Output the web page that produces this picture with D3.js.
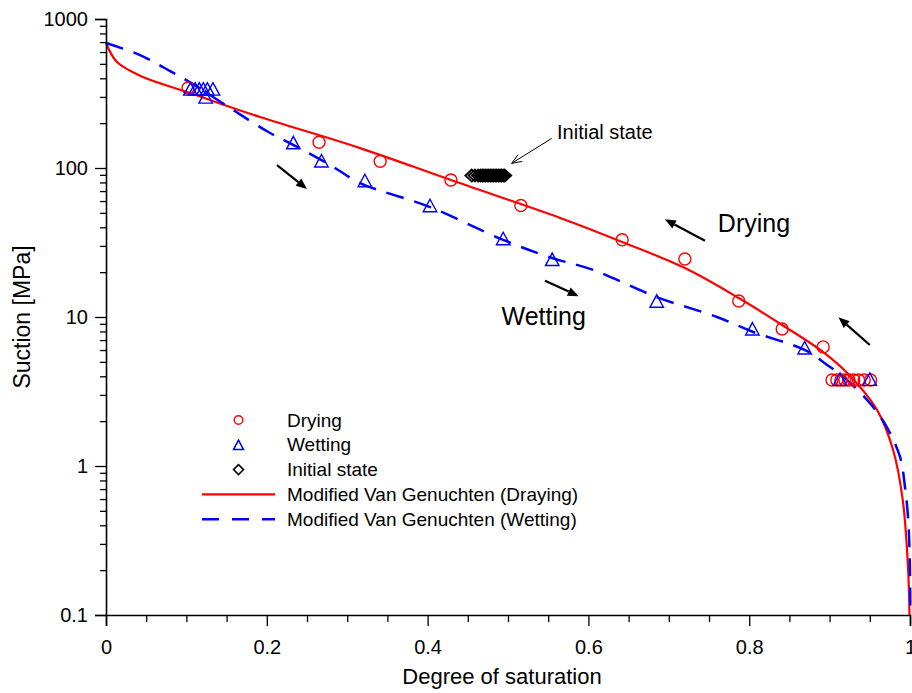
<!DOCTYPE html>
<html>
<head>
<meta charset="utf-8">
<script src="https://cdn.jsdelivr.net/npm/d3@7"></script>
<style>
  html, body { margin: 0; padding: 0; background: #fff; }
  svg { display: block; font-family: Arial, "Liberation Sans", sans-serif; }
</style>
</head>
<body>
<svg id="chart" width="912" height="693"></svg>
<script>
// ---------- data ----------
const xTicks = [0, 0.2, 0.4, 0.6, 0.8, 1];
const xTickLabels = ["0", "0.2", "0.4", "0.6", "0.8", "1"];
const yTicks = [0.1, 1, 10, 100, 1000];
const yTickLabels = ["0.1", "1", "10", "100", "1000"];

const dryingX = [0.102, 0.265, 0.341, 0.429, 0.516, 0.642, 0.720, 0.787, 0.841, 0.892,
                 0.903, 0.909, 0.914, 0.919, 0.924, 0.930, 0.936, 0.943, 0.951];
const dryingY = [344, 149, 111, 83, 56, 33, 24.5, 12.8, 8.3, 6.3,
                 3.78, 3.78, 3.78, 3.78, 3.78, 3.78, 3.78, 3.78, 3.78];

const wettingX = [0.105, 0.111, 0.116, 0.121, 0.126, 0.133, 0.124, 0.233, 0.268, 0.322,
                  0.403, 0.494, 0.555, 0.685, 0.804, 0.869, 0.913, 0.950];
const wettingY = [337, 337, 337, 337, 337, 337, 298, 147, 111, 81.8,
                  55.6, 33.4, 24.2, 12.7, 8.27, 6.17, 3.8, 3.8];

const initialX = [0.455, 0.459, 0.463, 0.466, 0.468, 0.470, 0.472, 0.474, 0.476, 0.478,
                  0.480, 0.482, 0.484, 0.486, 0.488, 0.490, 0.492, 0.494, 0.496];
const initialY = [89, 89, 89, 89, 89, 89, 89, 89, 89, 89, 89, 89, 89, 89, 89, 89, 89, 89, 89];

const dryFitX = [0, 0.0137, 0.046, 0.1007, 0.1294, 0.1915, 0.316, 0.429, 0.565, 0.642,
                 0.720, 0.787, 0.841, 0.892, 0.922, 0.959, 0.979, 0.991, 0.9975, 0.9994];
const dryFitY = [690, 514, 408, 324, 286, 220, 136, 83, 46.2, 31.9,
                 21.3, 13.4, 8.84, 5.82, 4.21, 2.38, 1.28, 0.59, 0.21, 0.1];

const wetFitX = [0, 0.0423, 0.0734, 0.1066, 0.1542, 0.2015, 0.2372, 0.2786, 0.3159, 0.403,
                 0.494, 0.555, 0.606, 0.685, 0.760, 0.805, 0.869, 0.897, 0.9216, 0.950,
                 0.971, 0.9876, 0.9938, 0.9975, 0.9994, 1.0005];
const wetFitY = [690, 573, 467, 370, 253, 175, 139, 105, 79.3, 54.7,
                 32.9, 24.9, 20.7, 13.6, 10.0, 7.93, 6.01, 4.77, 3.78, 2.65,
                 1.83, 1.15, 0.72, 0.455, 0.273, 0.1];

// arrows: [x1, y1, x2, y2] tail -> head (data units)
const bigArrows = [
  [0.2127, 104.7, 0.2500, 72.3],
  [0.546, 17.5, 0.588, 13.8],
  [0.745, 32.5, 0.695, 45.3],
  [0.950, 6.49, 0.911, 9.95]
];
const thinArrow = [0.5544, 158, 0.5046, 107.5];

const annotations = [
  { text: "Initial state", x: 0.561, y: 156, size: 20 },
  { text: "Drying", x: 0.761, y: 37.1, size: 25 },
  { text: "Wetting", x: 0.492, y: 8.83, size: 25 }
];

const legendItems = [
  { label: "Drying", type: "circle" },
  { label: "Wetting", type: "triangle" },
  { label: "Initial state", type: "diamond" },
  { label: "Modified Van Genuchten (Draying)", type: "solid" },
  { label: "Modified Van Genuchten (Wetting)", type: "dashed" }
];

// ---------- chart ----------
const svg = d3.select("#chart");
const x = d3.scaleLinear().domain([0, 1]).range([106, 910]);
const y = d3.scaleLog().domain([0.1, 1000]).range([615, 19]);

const RED = "#ff0000", BLUE = "#0000ff";

// curves
const line = d3.line().x(d => x(d[0])).y(d => y(d[1])).curve(d3.curveCatmullRom.alpha(0.5));
svg.append("path")
  .attr("d", line(dryFitX.map((v, i) => [v, dryFitY[i]])))
  .attr("fill", "none").attr("stroke", RED).attr("stroke-width", 2.2);
svg.append("path")
  .attr("d", line(wetFitX.map((v, i) => [v, wetFitY[i]])))
  .attr("fill", "none").attr("stroke", BLUE).attr("stroke-width", 2.5)
  .attr("stroke-dasharray", "18,11");

// markers
function triPath(cx, cy, s) {
  const h = s * 0.85;
  return `M${cx},${cy - h / 2 - 1}L${cx + s / 2},${cy + h / 2}L${cx - s / 2},${cy + h / 2}Z`;
}
function diaPath(cx, cy, w, h) {
  return `M${cx},${cy - h / 2}L${cx + w / 2},${cy}L${cx},${cy + h / 2}L${cx - w / 2},${cy}Z`;
}

svg.append("g").selectAll("circle").data(dryingX.map((v, i) => [v, dryingY[i]])).join("circle")
  .attr("cx", d => x(d[0])).attr("cy", d => y(d[1])).attr("r", 6)
  .attr("fill", "none").attr("stroke", RED).attr("stroke-width", 1.4);

svg.append("g").selectAll("path").data(wettingX.map((v, i) => [v, wettingY[i]])).join("path")
  .attr("d", d => triPath(x(d[0]), y(d[1]), 13.5))
  .attr("fill", "none").attr("stroke", BLUE).attr("stroke-width", 1.4);

svg.append("g").selectAll("path").data(initialX.map((v, i) => [v, initialY[i]])).join("path")
  .attr("d", d => diaPath(x(d[0]), y(d[1]), 13, 12))
  .attr("fill", "none").attr("stroke", "#000").attr("stroke-width", 1.8);

// arrows
bigArrows.forEach(a => {
  const x1 = x(a[0]), y1 = y(a[1]), x2 = x(a[2]), y2 = y(a[3]);
  const ang = Math.atan2(y2 - y1, x2 - x1);
  const L = 11, W = 4.5;
  const bx = x2 - L * Math.cos(ang), by = y2 - L * Math.sin(ang);
  svg.append("line").attr("x1", x1).attr("y1", y1).attr("x2", bx).attr("y2", by)
    .attr("stroke", "#000").attr("stroke-width", 2.2);
  svg.append("path")
    .attr("d", `M${x2},${y2}L${bx + W * Math.sin(ang)},${by - W * Math.cos(ang)}L${bx - W * Math.sin(ang)},${by + W * Math.cos(ang)}Z`)
    .attr("fill", "#000");
});
{
  const a = thinArrow;
  const x1 = x(a[0]), y1 = y(a[1]), x2 = x(a[2]), y2 = y(a[3]);
  const ang = Math.atan2(y2 - y1, x2 - x1);
  const L = 10, W = 4;
  const bx = x2 - L * Math.cos(ang), by = y2 - L * Math.sin(ang);
  svg.append("line").attr("x1", x1).attr("y1", y1).attr("x2", x2).attr("y2", y2)
    .attr("stroke", "#000").attr("stroke-width", 1);
  svg.append("path")
    .attr("d", `M${bx + W * Math.sin(ang)},${by - W * Math.cos(ang)}L${x2},${y2}L${bx - W * Math.sin(ang)},${by + W * Math.cos(ang)}`)
    .attr("fill", "none").attr("stroke", "#000").attr("stroke-width", 1);
}

// annotations
annotations.forEach(t => {
  svg.append("text").attr("x", x(t.x)).attr("y", y(t.y))
    .attr("font-size", t.size).attr("fill", "#000").text(t.text);
});

// axes
const xMinor = d3.range(0, 1.0001, 0.05).filter(v => Math.abs(v * 5 - Math.round(v * 5)) > 1e-6);
const gx = svg.append("g").attr("transform", `translate(0,${y(0.1)})`);
gx.call(d3.axisBottom(x).tickValues(xTicks).tickFormat((d, i) => xTickLabels[i]).tickSize(11).tickPadding(14));
gx.append("g").call(d3.axisBottom(x).tickValues(xMinor).tickFormat("").tickSize(7))
  .select(".domain").remove();

const yMinor = [];
[0.1, 1, 10, 100].forEach(b => { for (let k = 2; k <= 9; k++) yMinor.push(b * k); });
const gy = svg.append("g").attr("transform", `translate(${x(0)},0)`);
gy.call(d3.axisLeft(y).tickValues(yTicks).tickFormat((d, i) => yTickLabels[i]).tickSize(11).tickPadding(7));
gy.append("g").call(d3.axisLeft(y).tickValues(yMinor).tickFormat("").tickSize(6))
  .select(".domain").remove();

svg.selectAll(".domain").attr("stroke", "#000").attr("stroke-width", 1.6);
svg.selectAll(".tick line").attr("stroke", "#000").attr("stroke-width", 1.3);
svg.selectAll(".tick text").attr("font-size", 20).attr("font-family", "Arial, 'Liberation Sans', sans-serif").attr("fill", "#000");

svg.append("text").attr("x", 502).attr("y", 684).attr("text-anchor", "middle")
  .attr("font-size", 22).text("Degree of saturation");
svg.append("text").attr("transform", "translate(30,317) rotate(-90)").attr("text-anchor", "middle")
  .attr("font-size", 23).text("Suction [MPa]");

// legend
const lg = svg.append("g");
const legY0 = 420, legDy = 24.8, mx = 238.5, lx1 = 202, lx2 = 275, tx = 287;
legendItems.forEach((it, i) => {
  const yy = legY0 + i * legDy;
  if (it.type === "circle") {
    lg.append("circle").attr("cx", mx).attr("cy", yy).attr("r", 4.3)
      .attr("fill", "none").attr("stroke", RED).attr("stroke-width", 1.4);
  } else if (it.type === "triangle") {
    lg.append("path").attr("d", triPath(mx, yy + 0.5, 10)).attr("fill", "none")
      .attr("stroke", BLUE).attr("stroke-width", 1.5);
  } else if (it.type === "diamond") {
    lg.append("path").attr("d", diaPath(mx, yy, 10, 10)).attr("fill", "none")
      .attr("stroke", "#000").attr("stroke-width", 1.5);
  } else if (it.type === "solid") {
    lg.append("line").attr("x1", lx1).attr("x2", lx2).attr("y1", yy).attr("y2", yy)
      .attr("stroke", RED).attr("stroke-width", 2.2);
  } else {
    lg.append("line").attr("x1", lx1).attr("x2", lx2).attr("y1", yy).attr("y2", yy)
      .attr("stroke", BLUE).attr("stroke-width", 2.5).attr("stroke-dasharray", "17,13");
  }
  lg.append("text").attr("x", tx).attr("y", yy).attr("dy", "0.35em")
    .attr("font-size", 19).text(it.label);
});
</script>
</body>
</html>
